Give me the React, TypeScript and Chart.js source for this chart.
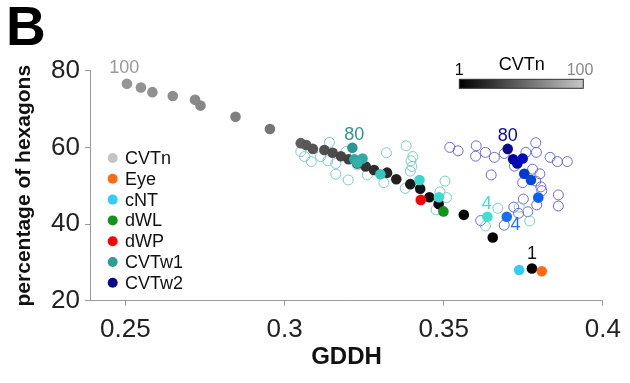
import React, { useEffect, useRef } from "react";
import { Chart, registerables } from "chart.js";
Chart.register(...registerables);

const FONT = "'Liberation Sans', Arial, Helvetica, sans-serif";

const X_TICKS = [0.25, 0.3, 0.35, 0.4];
const Y_TICKS = [20, 40, 60, 80];

// CVTn (n = 100 ... 1), gray colormap
const CVTN_X = [0.2505, 0.2549, 0.2585, 0.2649, 0.2719, 0.2736, 0.2846, 0.2954, 0.3051, 0.3068, 0.3089, 0.3125, 0.3151, 0.3177, 0.3201, 0.3229, 0.3255, 0.3281, 0.3322, 0.3351, 0.3395, 0.3426, 0.3455, 0.3484, 0.3563, 0.3654, 0.3777];
const CVTN_Y = [76.6, 75.6, 74.4, 73.4, 72.4, 70.9, 68.0, 64.8, 61.1, 60.6, 59.6, 59.3, 58.6, 57.7, 56.9, 55.8, 55.0, 54.1, 53.4, 51.7, 50.4, 49.2, 47.0, 45.2, 42.4, 36.5, 28.4];
const CVTN_N = [100, 98, 96, 94, 92, 90, 85, 78, 64, 60, 57, 54, 51, 47, 43, 39, 35, 31, 26, 22, 18, 14, 11, 8, 5, 3, 1];

// CVTw1 filled (80 ... 4)
const W1_X = [0.3213, 0.3219, 0.3245, 0.3229, 0.3301, 0.3424, 0.3485, 0.3637];
const W1_Y = [59.9, 56.9, 57.1, 56.0, 53.0, 51.5, 47.0, 41.9];
const W1_COLORS = ["#2a9690", "#2fa6a1", "#31aba6", "#34b1ab", "#36c6be", "#3cd4cb", "#3fdbd0", "#40e0d0"];

// CVTw2 filled (80 ... 4)
const W2_X = [0.3701, 0.3718, 0.3731, 0.3748, 0.3753, 0.3774, 0.3797, 0.3698];
const W2_Y = [59.6, 56.9, 55.8, 57.1, 53.1, 51.5, 46.9, 41.9];
const W2_COLORS = ["#0b0b8c", "#0000a6", "#0008b2", "#0010b8", "#0038cc", "#0048dc", "#0a5ff0", "#1a6ef5"];

// CVTw1 other runs (open circles)
const W1_OPEN_X = [0.3141, 0.3051, 0.3063, 0.3084, 0.3113, 0.3136, 0.3161, 0.3161, 0.3200, 0.3193, 0.3229, 0.3260, 0.3320, 0.3382, 0.3403, 0.3397, 0.3400, 0.3395, 0.3312, 0.3379, 0.3504, 0.3476, 0.3488, 0.3509, 0.3670, 0.3737, 0.3631, 0.3770];
const W1_OPEN_Y = [61.3, 58.9, 57.6, 56.3, 57.6, 56.5, 55.8, 53.0, 51.5, 58.9, 55.4, 52.8, 58.6, 60.4, 57.6, 56.5, 55.0, 53.8, 50.8, 49.3, 51.2, 43.7, 48.4, 46.9, 44.1, 44.4, 39.5, 40.8];

// CVTw2 other runs (open circles)
const W2_OPEN_X = [0.3519, 0.3545, 0.3602, 0.3600, 0.3631, 0.3659, 0.3690, 0.3758, 0.3789, 0.3791, 0.3834, 0.3857, 0.3888, 0.3722, 0.3649, 0.3779, 0.3802, 0.3748, 0.3789, 0.3805, 0.3808, 0.3860, 0.3860, 0.3750, 0.3792, 0.3720, 0.3764, 0.3616, 0.3690, 0.3735];
const W2_OPEN_Y = [60.0, 59.1, 60.4, 57.7, 58.7, 57.4, 58.4, 58.7, 61.2, 58.7, 57.4, 56.3, 56.3, 55.1, 52.8, 54.3, 53.1, 50.8, 51.2, 49.7, 48.7, 47.6, 44.7, 46.5, 45.0, 44.4, 43.2, 40.9, 39.7, 42.8];

// single points
const EYE = { x: 0.3808, y: 27.7 };
const CNT = { x: 0.3737, y: 28.0 };
const DWL = { x: 0.3499, y: 43.3 };
const DWP = { x: 0.3428, y: 46.3 };

const LEGEND_LABELS = ["CVTn", "Eye", "cNT", "dWL", "dWP", "CVTw1", "CVTw2"];
const LEGEND_COLORS = ["#c4c4c4", "#ff6a13", "#33ccff", "#11941a", "#ff0000", "#2e9c98", "#0a0a8c"];

const COLORBAR_TITLE = "CVTn";
const COLORBAR_MIN = "1";
const COLORBAR_MAX = "100";

const grayOf = (n: number) => {
  const g = Math.round((150 * (n - 1)) / 99);
  return `rgb(${g},${g},${g})`;
};

const pts = (xs: number[], ys: number[]) => xs.map((x, i) => ({ x, y: ys[i] }));

const overlayPlugin = {
  id: "overlay",
  afterDraw(chart: any) {
    const ctx = chart.ctx as CanvasRenderingContext2D;
    const xs = chart.scales.x;
    const ys = chart.scales.y;
    const px = (x: number) => xs.getPixelForValue(x);
    const py = (y: number) => ys.getPixelForValue(y);
    ctx.save();

    // panel letter
    ctx.fillStyle = "#000";
    ctx.font = `bold 55px ${FONT}`;
    ctx.textAlign = "left";
    ctx.textBaseline = "alphabetic";
    ctx.fillText("B", 6, 45);

    // legend
    ctx.font = `18px ${FONT}`;
    ctx.textBaseline = "middle";
    LEGEND_LABELS.forEach((lab, i) => {
      const y = 158 + i * 20.8;
      ctx.fillStyle = LEGEND_COLORS[i];
      ctx.beginPath();
      ctx.arc(112.7, y, 5, 0, Math.PI * 2);
      ctx.fill();
      ctx.fillStyle = "#111";
      ctx.fillText(lab, 125, y + 1);
    });

    // colorbar
    const cbL = 459.3, cbR = 583.3, cbT = 79.3, cbB = 88.3;
    const grad = ctx.createLinearGradient(cbL, 0, cbR, 0);
    grad.addColorStop(0, "#000");
    grad.addColorStop(1, "#c8c8c8");
    ctx.fillStyle = grad;
    ctx.fillRect(cbL, cbT, cbR - cbL, cbB - cbT);
    ctx.strokeStyle = "#333";
    ctx.lineWidth = 1;
    ctx.strokeRect(cbL, cbT, cbR - cbL, cbB - cbT);
    ctx.textAlign = "center";
    ctx.fillStyle = "#000";
    ctx.font = `16px ${FONT}`;
    ctx.fillText(COLORBAR_MIN, cbL, 70.7);
    ctx.fillStyle = "#888";
    ctx.fillText(COLORBAR_MAX, 580, 70.7);
    ctx.fillStyle = "#000";
    ctx.font = `18px ${FONT}`;
    ctx.fillText(COLORBAR_TITLE, 521.7, 65);

    // point annotations
    ctx.font = `18px ${FONT}`;
    const ann = (t: string, x: number, y: number, dx: number, dy: number, c: string) => {
      ctx.fillStyle = c;
      ctx.fillText(t, px(x) + dx, py(y) + dy);
    };
    ann(String(CVTN_N[0]), CVTN_X[0], CVTN_Y[0], -2.6, -15.4, "#999");
    ann(String(CVTN_N[CVTN_N.length - 1]), CVTN_X[CVTN_X.length - 1], CVTN_Y[CVTN_Y.length - 1], 0, -14.8, "#111");
    ann("80", W1_X[0], W1_Y[0], 2, -12.7, "#2a9690");
    ann("80", W2_X[0], W2_Y[0], 0, -12.8, "#0b0b8c");
    ann("4", W1_X[W1_X.length - 1], W1_Y[W1_Y.length - 1], -0.5, -12.7, "#40e0d0");
    ann("4", W2_X[W2_X.length - 1], W2_Y[W2_Y.length - 1], 8.8, 8.3, "#2a70e0");

    ctx.restore();
  },
};

export default function App() {
  const ref = useRef<HTMLCanvasElement>(null);
  useEffect(() => {
    if (!ref.current) return;
    const filled = (label: string, data: any[], color: any, order: number) => ({
      label,
      data,
      pointRadius: 5.3,
      pointBackgroundColor: color,
      pointBorderWidth: 0,
      pointBorderColor: "rgba(0,0,0,0)",
      showLine: false,
      clip: false as any,
      order,
    });
    const open = (label: string, data: any[], color: string, order: number) => ({
      label,
      data,
      pointRadius: 5,
      pointBackgroundColor: "rgba(0,0,0,0)",
      pointBorderWidth: 1,
      pointBorderColor: color,
      showLine: false,
      clip: false as any,
      order,
    });
    const chart = new Chart(ref.current, {
      type: "scatter",
      data: {
        datasets: [
          open("CVTw2 runs", pts(W2_OPEN_X, W2_OPEN_Y), "#6b6bd6", 10),
          open("CVTw1 runs", pts(W1_OPEN_X, W1_OPEN_Y), "#7ccac6", 9),
          filled("CVTn", pts(CVTN_X, CVTN_Y), CVTN_N.map(grayOf), 8),
          filled("CVTw1", pts(W1_X, W1_Y), W1_COLORS, 5),
          filled("CVTw2", pts(W2_X, W2_Y), W2_COLORS, 4),
          filled("dWL", [DWL], "#11941a", 3),
          filled("dWP", [DWP], "#ff0000", 3),
          filled("cNT", [CNT], "#33ccff", 7),
          filled("Eye", [EYE], "#ff6a13", 7),
        ] as any,
      },
      options: {
        responsive: false,
        animation: false,
        devicePixelRatio: 1,
        layout: { padding: { top: 70.7, right: 22.3, left: 0, bottom: 0 } },
        plugins: { legend: { display: false }, tooltip: { enabled: false } },
        scales: {
          x: {
            type: "linear",
            min: 0.2389,
            max: 0.4,
            afterBuildTicks: (s: any) => {
              s.ticks = X_TICKS.map((v) => ({ value: v }));
            },
            afterFit: (s: any) => {
              s.height = 82.3;
            },
            ticks: {
              font: { family: FONT, size: 26 },
              color: "#222",
              padding: 9,
              maxRotation: 0,
              callback: (v: any) => String(v),
            },
            grid: { drawOnChartArea: false, drawTicks: true, tickLength: 5, color: "#999" },
            border: { display: true, color: "#999", width: 1 },
            title: {
              display: true,
              text: "GDDH",
              color: "#111",
              font: { family: FONT, size: 24, weight: "bold" },
              padding: { top: 0, bottom: 11.6 },
            },
          },
          y: {
            type: "linear",
            min: 20,
            max: 80,
            afterBuildTicks: (s: any) => {
              s.ticks = Y_TICKS.map((v) => ({ value: v }));
            },
            afterFit: (s: any) => {
              s.width = 90;
            },
            ticks: {
              font: { family: FONT, size: 26 },
              color: "#222",
              padding: 5,
            },
            grid: { drawOnChartArea: false, drawTicks: true, tickLength: 5, color: "#999" },
            border: { display: true, color: "#999", width: 1 },
            title: {
              display: true,
              text: "percentage of hexagons",
              color: "#111",
              font: { family: FONT, size: 21, weight: "bold" },
              padding: { top: 11.4, bottom: 0 },
            },
          },
        },
      },
      plugins: [overlayPlugin],
    });
    return () => chart.destroy();
  }, []);
  return (
    <div style={{ position: "fixed", left: 0, top: 0, width: 630, height: 383, background: "#fff" }}>
      <canvas ref={ref} width={630} height={383} />
    </div>
  );
}
